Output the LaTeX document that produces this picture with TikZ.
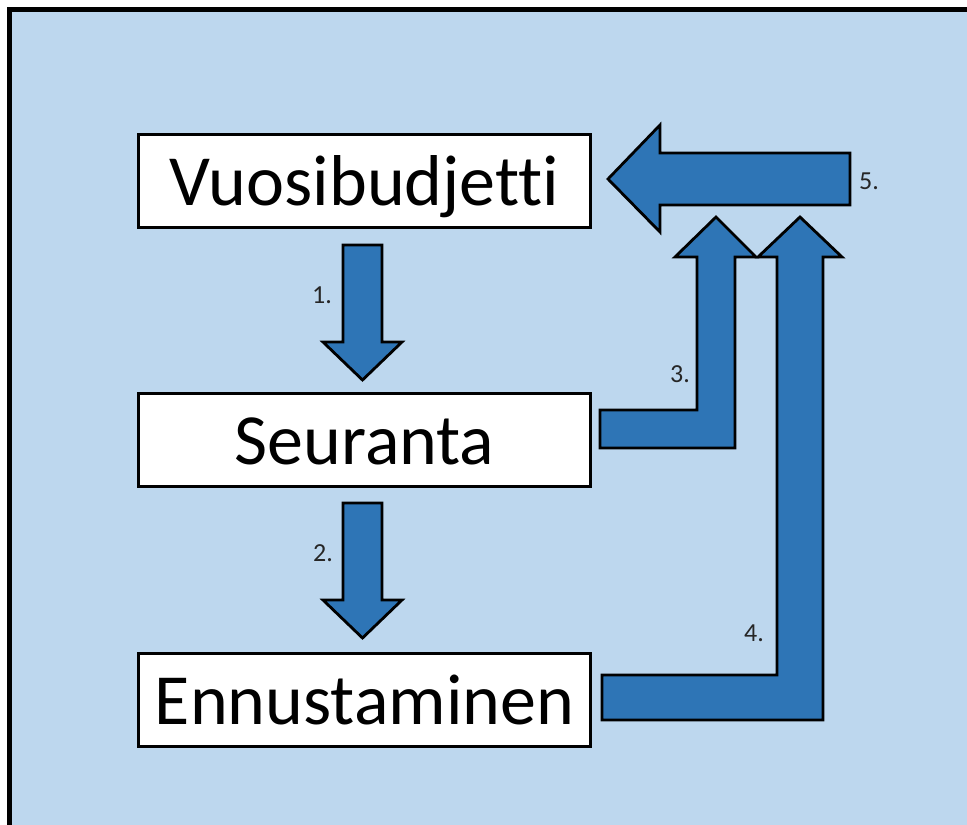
\documentclass[tikz,border=0pt]{standalone}
\usepackage{fontspec}
\setmainfont{Carlito}[Ligatures={NoCommon}]
\definecolor{bgblue}{HTML}{BDD7EE}
\definecolor{arrowblue}{HTML}{2E75B6}
\begin{document}
\begin{tikzpicture}[x=1pt,y=-1pt,
  stage/.style={draw, line width=3pt, fill=white, minimum width=452pt,
    minimum height=93pt, inner sep=0pt, text height=56pt, text depth=8pt,
    font=\fontsize{72}{80}\selectfont},
  blockarrow/.style={draw, line width=2.8pt, fill=arrowblue, line join=miter},
  steplabel/.style={font=\fontsize{26}{30}\selectfont, text=black!85, inner sep=0pt}]
\useasboundingbox (0,0) rectangle (967,825);
% page and framed light-blue panel
\fill[white] (0,0) rectangle (967,825);
\fill[bgblue] (9.5,9.5) rectangle (967,825);
\draw[line width=4.5pt] (9.5,830) -- (9.5,9.5) -- (970,9.5);

% the three stages
\node[stage] (vb) at (364.5,181) {Vuosibudjetti};
\node[stage] (se) at (364.5,440) {Seuranta};
\node[stage] (en) at (364.5,700) {Ennustaminen};

% 1. budget -> follow-up
\draw[blockarrow] (343,245) -- (382,245) -- (382,342) -- (402,342)
  -- (362.5,380) -- (323,342) -- (343,342) -- cycle;
% 2. follow-up -> forecasting
\draw[blockarrow] (343,503) -- (382,503) -- (382,600) -- (402,600)
  -- (362.5,638) -- (323,600) -- (343,600) -- cycle;
% 3. follow-up feeds back upwards
\draw[blockarrow] (600,410) -- (697,410) -- (697,257) -- (675,257)
  -- (716,217) -- (756,257) -- (735,257) -- (735,448) -- (600,448) -- cycle;
% 4. forecasting feeds back upwards
\draw[blockarrow] (602,675) -- (777,675) -- (777,257) -- (758,257)
  -- (800,217) -- (842,257) -- (823,257) -- (823,720) -- (602,720) -- cycle;
% 5. back to the annual budget
\draw[blockarrow] (850,153) -- (850,205) -- (660,205) -- (660,232)
  -- (608,179) -- (660,125) -- (660,153) -- cycle;

% step numbers
\node[steplabel] (n1) at (322,295) {1.};
\node[steplabel] (n2) at (323,553) {2.};
\node[steplabel] (n3) at (680,374) {3.};
\node[steplabel] (n4) at (754,633) {4.};
\node[steplabel] (n5) at (869,181) {5.};
\end{tikzpicture}
\end{document}
